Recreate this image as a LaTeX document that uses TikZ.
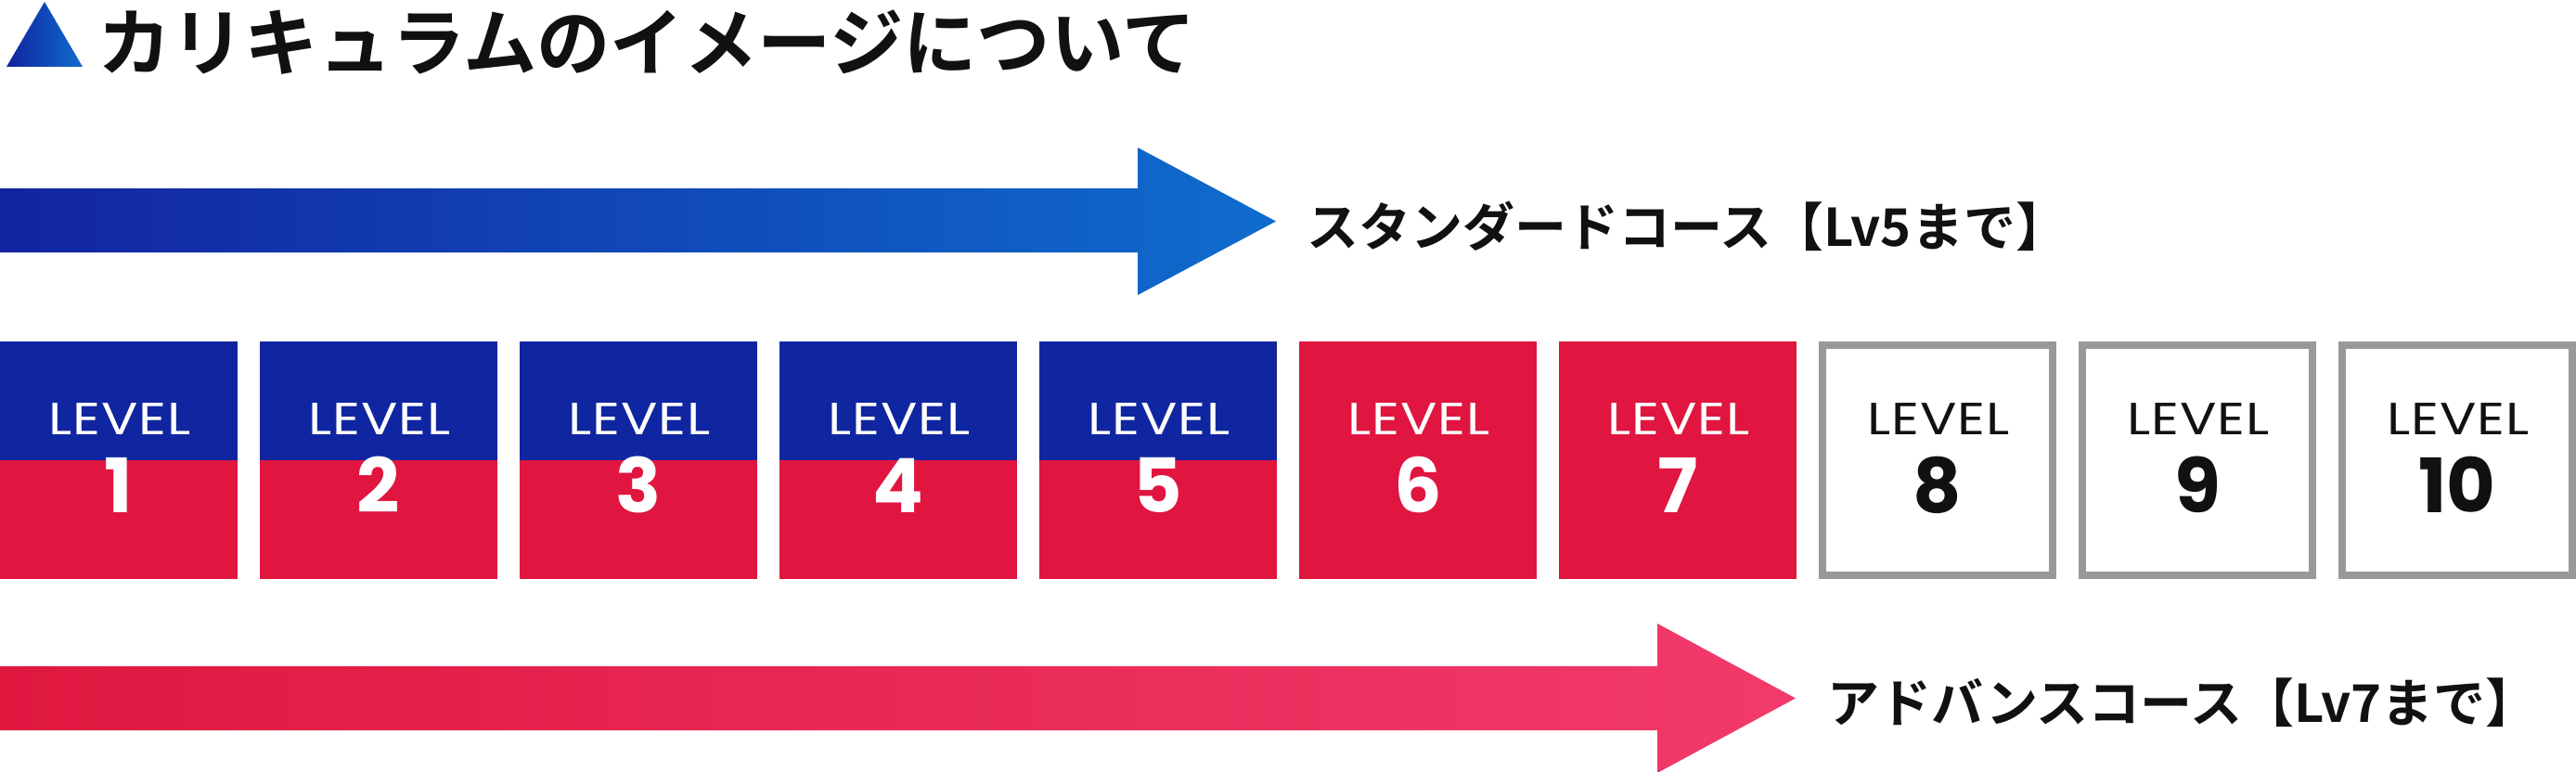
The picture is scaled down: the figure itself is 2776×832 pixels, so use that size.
\documentclass[tikz,border=0pt]{standalone}
\usepackage{fontspec}
\newfontfamily\cjk{Noto Sans CJK JP}[BoldFont={* Bold}]
\newfontfamily\pop{Poppins}
\newfontfamily\popwide{Poppins}[FakeStretch=1.2, LetterSpace=2]
\definecolor{boxblue}{RGB}{16,38,160}
\definecolor{boxred}{RGB}{224,22,64}
\definecolor{arrblueL}{RGB}{18,36,160}
\definecolor{arrblueR}{RGB}{15,108,205}
\definecolor{arrredL}{RGB}{224,24,64}
\definecolor{arrredR}{RGB}{241,58,107}
\definecolor{boxgray}{RGB}{153,153,153}
\definecolor{ink}{RGB}{17,17,17}
\tikzset{
  lvbox/.style={rectangle, minimum width=256pt, minimum height=256pt, inner sep=0pt, fill=boxred},
  emptybox/.style={rectangle, minimum width=248pt, minimum height=248pt, inner sep=0pt, draw=boxgray, line width=8pt, fill=white},
  lvtext/.style={anchor=base, inner sep=0pt, font=\popwide\fontsize{48.6}{58}\selectfont},
  numtext/.style={anchor=base, inner sep=0pt, font=\pop\bfseries\fontsize{81}{90}\selectfont},
  jptext/.style={anchor=base west, inner sep=0pt, text=ink, font=\cjk\bfseries\fontsize{56}{66}\selectfont},
  titletext/.style={anchor=base west, inner sep=0pt, text=ink, font=\cjk\bfseries\fontsize{79.3}{90}\selectfont},
}
\begin{document}
\begin{tikzpicture}[x=1pt,y=-1pt]
\useasboundingbox (0,0) rectangle (2776,832);
% title
\shade[left color=arrblueL, right color=arrblueR] (7,72) -- (48,2) -- (89,72) -- cycle;
\node[titletext] (title) at (105,75.5) {カリキュラムのイメージについて};
% top arrow
\shade[left color=arrblueL, right color=arrblueR]
  (0,203) -- (1226,203) -- (1226,159) -- (1375,238.5) -- (1226,318) -- (1226,272) -- (0,272) -- cycle;
\node[jptext] (std) at (1408,265) {スタンダードコース【Lv5まで】};
% boxes
\foreach \i in {1,...,7}{
  \node[lvbox] (box\i) at ({128+280*(\i-1)},496) {};
}
\foreach \i in {1,...,5}{
  \fill[boxblue] (box\i.north west) rectangle (box\i.east);
}
\foreach \i in {8,9,10}{
  \node[emptybox] (box\i) at ({128+280*(\i-1)},496) {};
}
\foreach \i in {1,...,7}{
  \node[lvtext, text=white] (lv\i) at ({129+280*(\i-1)},468) {LEVEL};
  \node[numtext, text=white] (num\i) at ({128+280*(\i-1)},552) {\i};
}
\foreach \i in {8,9,10}{
  \node[lvtext, text=ink] (lv\i) at ({129+280*(\i-1)},468) {LEVEL};
  \node[numtext, text=ink] (num\i) at ({128+280*(\i-1)},552) {\i};
}
% bottom arrow
\shade[left color=arrredL, right color=arrredR]
  (0,718) -- (1786,718) -- (1786,672) -- (1935,752.5) -- (1786,833) -- (1786,787) -- (0,787) -- cycle;
\node[jptext] (adv) at (1969,778) {アドバンスコース【Lv7まで】};
\end{tikzpicture}
\end{document}
